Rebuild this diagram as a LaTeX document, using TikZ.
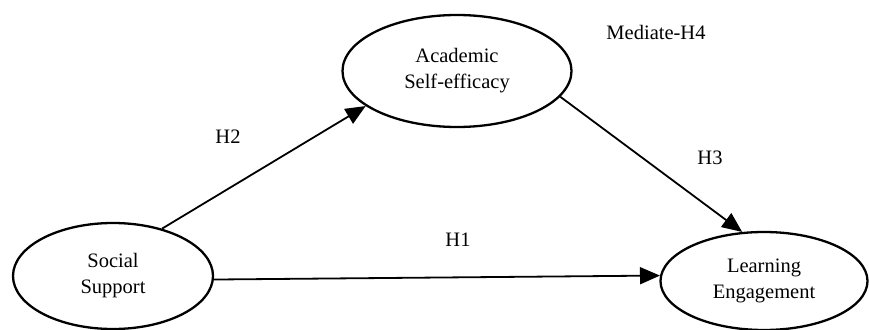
\documentclass[tikz,border=0pt]{standalone}
\usepackage{fontspec}
\setmainfont{Liberation Serif}
\usetikzlibrary{shapes.geometric,arrows.meta}
\begin{document}
\begin{tikzpicture}[x=1pt,y=-1pt,
  every node/.style={font=\fontsize{20.5}{26}\selectfont},
  construct/.style={ellipse,draw,line width=2.3pt,inner sep=0pt,align=center},
  path/.style={line width=1.8pt,-{Triangle[length=20pt,width=17pt]}},
  lbl/.style={inner sep=0pt}]
\useasboundingbox (0,0) rectangle (869,329);
\node[construct,minimum width=200pt,minimum height=106pt] (ss) at (113,276) {Social\\Support};
\node[construct,minimum width=229pt,minimum height=112pt] (ase) at (457,71) {Academic\\Self-efficacy};
\node[construct,minimum width=207pt,minimum height=98pt] (le) at (764,281) {Learning\\Engagement};
\draw[path] (ss.44) -- (ase.201);
\draw[path] (ase.-14) -- (le.114);
\draw[path] (ss.-2) -- (le.177);
\node[lbl] (h2) at (228,137) {H2};
\node[lbl] (h3) at (710,158) {H3};
\node[lbl] (h1) at (458,240) {H1};
\node[lbl] (h4) at (656,32) {Mediate-H4};
\end{tikzpicture}
\end{document}
